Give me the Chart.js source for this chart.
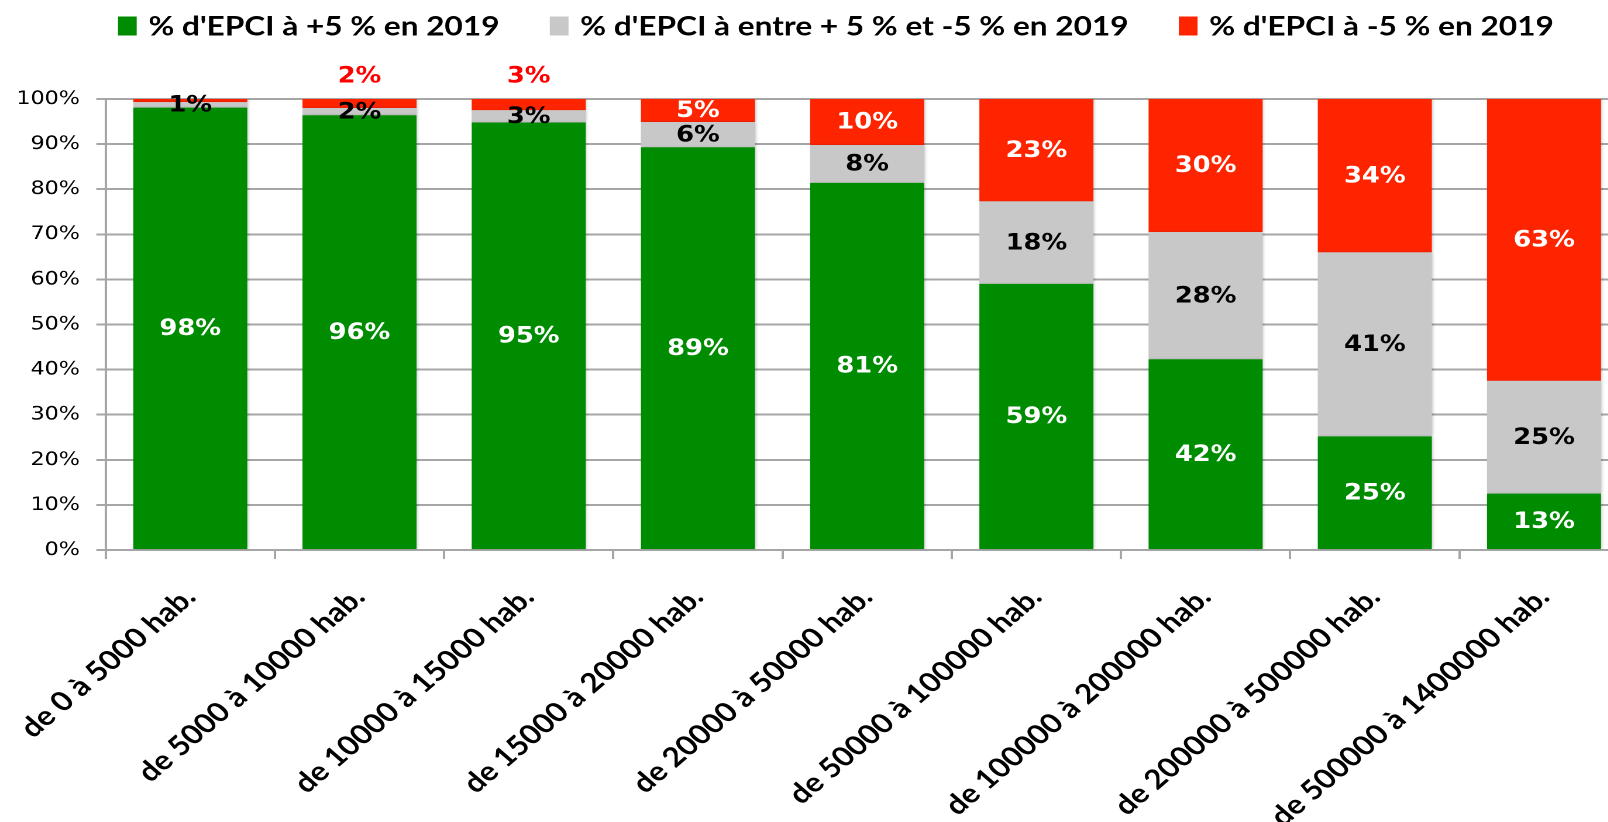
<!DOCTYPE html>
<html lang="fr">
<head>
<meta charset="utf-8">
<title>EPCI 2019 par taille</title>
<script src="https://cdn.jsdelivr.net/npm/chart.js@4.4.1/dist/chart.umd.min.js"></script>
<style>
    html, body { margin: 0; padding: 0; background: #fff; overflow: hidden; height: 822px; }
    /* le graphique d'origine est étiré horizontalement */
    #wrap { width: 1394px; height: 855px; transform: scaleX(1.17); transform-origin: 0 0; }
</style>
</head>
<body>
<div id="wrap"><canvas id="chart"></canvas></div>
<script>
// Données
const categories = [
    'de 0 à 5000 hab.', 'de 5000 à 10000 hab.', 'de 10000 à 15000 hab.',
    'de 15000 à 20000 hab.', 'de 20000 à 50000 hab.', 'de 50000 à 100000 hab.',
    'de 100000 à 200000 hab.', 'de 200000 à 500000 hab.', 'de 500000 à 1400000 hab.'
];
const seriesNames = [
    "% d'EPCI à +5 % en 2019",
    "% d'EPCI à entre + 5 % et -5 % en 2019",
    "% d'EPCI à -5 % en 2019"
];
const hausse = [98.1, 96.4, 94.8, 89.3, 81.4, 59.0, 42.3, 25.2, 12.5];
const stable = [1.2, 1.6, 2.7, 5.6, 8.4, 18.3, 28.2, 40.8, 25.0];
const baisse = [0.7, 2.0, 2.5, 5.1, 10.2, 22.7, 29.5, 34.0, 62.5];
const yTicks = [0, 10, 20, 30, 40, 50, 60, 70, 80, 90, 100];

const GREEN = '#008c00';
const GREY = '#c8c8c8';
const RED = '#ff2400';
const GRID = '#a6a6a6';
const BOLD_FONT = 'Lato, "Open Sans", sans-serif';

// Ombre légère à droite des barres
const barShadow = {
    id: 'barShadow',
    beforeDatasetDraw(chart) {
        const ctx = chart.ctx;
        ctx.save();
        ctx.shadowColor = 'rgba(0, 0, 0, 0.22)';
        ctx.shadowBlur = 5;
        ctx.shadowOffsetX = 2;
    },
    afterDatasetDraw(chart) {
        chart.ctx.restore();
    }
};

// Étiquettes de valeurs dans les barres
const segmentLabels = {
    id: 'segmentLabels',
    afterDatasetsDraw(chart) {
        const ctx = chart.ctx;
        ctx.save();
        ctx.font = 'bold 22px "DejaVu Sans", Verdana, sans-serif';
        ctx.textAlign = 'center';
        ctx.textBaseline = 'middle';
        chart.data.datasets.forEach((ds, i) => {
            const meta = chart.getDatasetMeta(i);
            meta.data.forEach((bar, j) => {
                const v = ds.data[j];
                const text = Math.round(v) + '%';
                if (ds.isTop && v < 1) return;
                if (ds.isTop && v < 4) {
                    // petite part : au-dessus de la barre
                    ctx.fillStyle = '#ff0000';
                    ctx.fillText(text, bar.x, chart.chartArea.top - 22);
                    return;
                }
                ctx.fillStyle = ds.labelColor;
                ctx.fillText(text, bar.x, (bar.y + bar.base) / 2 + 1);
            });
        });
        ctx.restore();
    }
};

// Légende dessinée à la main (espacement d'origine)
const topLegend = {
    id: 'topLegend',
    afterDraw(chart) {
        const ctx = chart.ctx;
        ctx.save();
        ctx.font = 'bold 27px ' + BOLD_FONT;
        ctx.textBaseline = 'middle';
        const boxW = 16, boxH = 19, gap = 10, itemGap = 43;
        const items = chart.data.datasets.map(ds => ({
            text: ds.label, color: ds.backgroundColor, w: ctx.measureText(ds.label).width
        }));
        let total = 0;
        items.forEach((it, k) => { total += boxW + gap + it.w + (k ? itemGap : 0); });
        let x = chart.width * 0.5125 - total / 2;
        const cy = 26;
        items.forEach(it => {
            ctx.fillStyle = it.color;
            ctx.fillRect(x, cy - boxH / 2, boxW, boxH);
            ctx.fillStyle = '#000';
            ctx.fillText(it.text, x + boxW + gap, cy + 1);
            x += boxW + gap + it.w + itemGap;
        });
        ctx.restore();
    }
};

const ctx = document.getElementById('chart');
new Chart(ctx, {
    type: 'bar',
    data: {
        labels: categories,
        datasets: [
            { label: seriesNames[0], data: hausse, backgroundColor: GREEN, labelColor: '#fff' },
            { label: seriesNames[1], data: stable, backgroundColor: GREY, labelColor: '#000' },
            { label: seriesNames[2], data: baisse, backgroundColor: RED, labelColor: '#fff', isTop: true }
        ]
    },
    options: {
        responsive: true,
        maintainAspectRatio: false,
        animation: false,
        devicePixelRatio: 2,
        layout: { padding: { top: 99, right: 2, bottom: 0, left: 0 } },
        datasets: { bar: { categoryPercentage: 1, barPercentage: 0.674, borderWidth: 0 } },
        plugins: {
            legend: { display: false },
            tooltip: { enabled: false }
        },
        scales: {
            x: {
                stacked: true,
                // la marge gauche réservée au premier libellé inclut le padding : on la retire
                afterFit: scale => { scale.paddingLeft = Math.max(0, scale.paddingLeft - 10); },
                grid: { offset: true, drawOnChartArea: false, color: GRID, lineWidth: 2, tickLength: 9 },
                border: { color: GRID, width: 2 },
                ticks: {
                    autoSkip: false, maxRotation: 45, minRotation: 45, padding: 22,
                    color: '#000', font: { family: BOLD_FONT, size: 27, weight: 'bold' }
                }
            },
            y: {
                stacked: true,
                min: 0,
                max: 100,
                afterBuildTicks: axis => { axis.ticks = yTicks.map(v => ({ value: v })); },
                grid: { color: GRID, lineWidth: 2, tickLength: 8 },
                border: { color: GRID, width: 2 },
                ticks: {
                    padding: 14, color: '#000',
                    font: { family: '"DejaVu Sans", Verdana, sans-serif', size: 19 },
                    callback: v => v + '%'
                }
            }
        }
    },
    plugins: [barShadow, segmentLabels, topLegend]
});
</script>
</body>
</html>
